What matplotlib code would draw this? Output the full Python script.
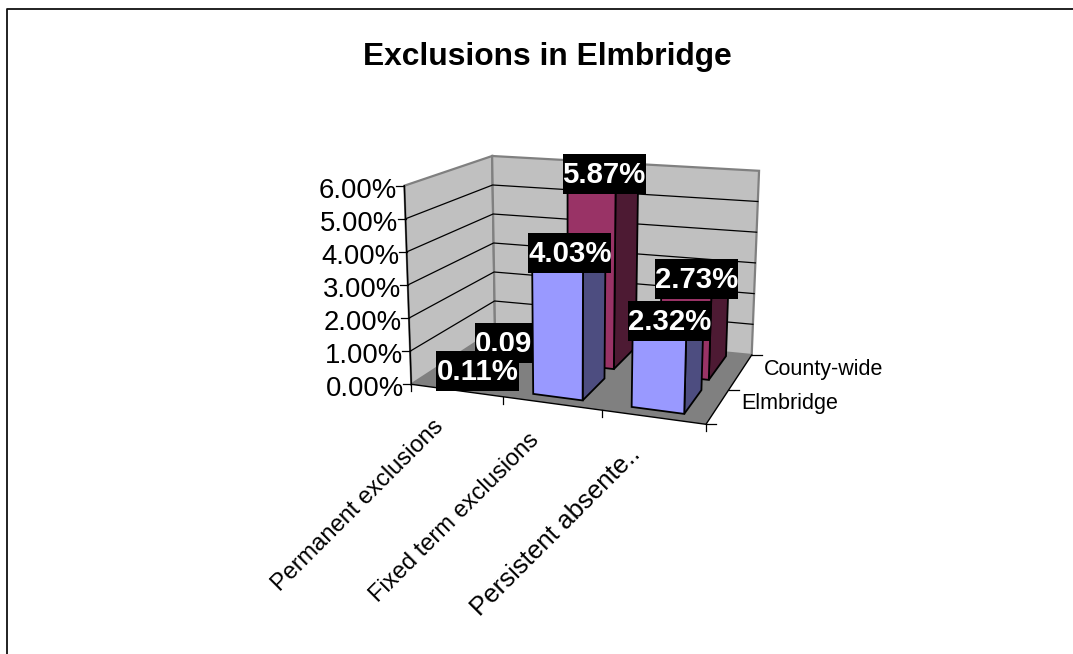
import numpy as np
import matplotlib
matplotlib.use('Agg')
import matplotlib.pyplot as plt
from matplotlib.patches import Rectangle

plt.rcParams['font.family'] = ['Liberation Sans', 'DejaVu Sans']

categories = ['Permanent exclusions', 'Fixed term exclusions', 'Persistent absente..']
series_names = ['Elmbridge', 'County-wide']
elmbridge = [0.11, 4.03, 2.32]
county = [0.09, 5.87, 2.73]
y_ticks = [0, 1, 2, 3, 4, 5, 6]

# floor corners on screen and pixels per 1% at each corner
FL, BL, BR, FR = map(np.array, [(411.3, 384.3), (495.0, 330.0), (751.7, 355.0), (706.0, 424.3)])
SCALE = [33.1, 29.0, 30.7, 35.0]
VANISH_X = 570.0
LEAN = 0.00022


def project(u, v, z):
    s = u / 3.0
    s = s - 0.095 * s * (1 - s)   # a bit of perspective along the x axis
    t = v / 2.0
    floor = (1 - t) * ((1 - s) * FL + s * FR) + t * ((1 - s) * BL + s * BR)
    per_unit = (1 - t) * ((1 - s) * SCALE[0] + s * SCALE[3]) + t * ((1 - s) * SCALE[1] + s * SCALE[2])
    h = per_unit * z
    return floor[0] + (floor[0] - VANISH_X) * LEAN * h, floor[1] - h


def face(ax, pts, color, edge='black', lw=1.3, zorder=3):
    xs = [p[0] for p in pts]
    ys = [p[1] for p in pts]
    ax.fill(xs, ys, facecolor=color, edgecolor=edge, linewidth=lw, zorder=zorder)


def bar3d(ax, i, j, val, front, side, top, zorder):
    u0, u1 = i + 0.24, i + 0.75
    v0, v1 = j + 0.20, j + 0.90
    face(ax, [project(u1, v0, 0), project(u1, v1, 0), project(u1, v1, val), project(u1, v0, val)], side, zorder=zorder)
    face(ax, [project(u0, v0, val), project(u1, v0, val), project(u1, v1, val), project(u0, v1, val)], top, zorder=zorder)
    face(ax, [project(u0, v0, 0), project(u1, v0, 0), project(u1, v0, val), project(u0, v0, val)], front, zorder=zorder)


def value_label(ax, i, j, val, zorder):
    x, y = project(i + 0.5, j + 0.5, val)
    x += 2
    y -= 2
    ax.add_patch(Rectangle((x - 41.5, y - 20), 83, 40, facecolor='black', edgecolor='none', zorder=zorder))
    ax.text(x, y + 1, '%.2f%%' % val, color='white', fontsize=21.2, fontweight='bold', ha='center', va='center', zorder=zorder + 0.01)


fig = plt.figure(figsize=(10.73, 6.54), dpi=100)
ax = fig.add_axes([0, 0, 1, 1])
ax.set_xlim(0, 1073)
ax.set_ylim(654, 0)
ax.axis('off')

# chart area border, right and bottom fall outside the crop
ax.plot([7, 7, 1073], [654, 9, 9], color='#101010', lw=1.3, zorder=1)

ax.text(547, 57, 'Exclusions in Elmbridge', fontsize=22.9, fontweight='bold', ha='center', va='center')

# walls and floor
face(ax, [project(0, 0, 0), project(0, 0, 6), project(0, 2, 6), project(0, 2, 0)], '#C0C0C0', edge='#808080', lw=1.6, zorder=1.5)
face(ax, [project(0, 2, 0), project(0, 2, 6), project(3, 2, 6), project(3, 2, 0)], '#C0C0C0', edge='#808080', lw=1.6, zorder=1.5)
face(ax, [project(0, 0, 0), project(0, 2, 0), project(3, 2, 0), project(3, 0, 0)], '#808080', edge='none', lw=0, zorder=1.6)

for t in y_ticks:
    a, b, c = project(0, 0, t), project(0, 2, t), project(3, 2, t)
    if 0 < t < 6:
        ax.plot([a[0], b[0], c[0]], [a[1], b[1], c[1]], color='black', lw=0.9, zorder=1.7)
    ax.plot([a[0] - 8, a[0]], [a[1], a[1]], color='black', lw=0.9, zorder=1.7)
    ax.text(a[0] - 7, a[1] + 5, '%.2f%%' % t, fontsize=19.8, ha='right', va='center', zorder=2)

# axes lines and ticks
p, q, r, s = project(0, 0, 0), project(0, 0, 6), project(3, 0, 0), project(3, 2, 0)
ax.plot([q[0], p[0], r[0], s[0]], [q[1], p[1], r[1], s[1]], color='black', lw=1.0, zorder=1.8)
for i in range(4):
    x, y = project(i, 0, 0)
    ax.plot([x, x], [y, y + 7], color='black', lw=0.9, zorder=1.8)
for j in range(3):
    x, y = project(3, j, 0)
    ax.plot([x, x + 10], [y, y], color='black', lw=0.9, zorder=1.8)

# category and series labels, the last one renders wider in the original
for i, name in enumerate(categories):
    x, y = project(i + 0.5, 0, 0)
    size = 18.6 if i == 2 else 17
    ax.text(x - 16, y + 33, name, fontsize=size, rotation=45, rotation_mode='anchor', ha='right', va='center')
for j, name in enumerate(series_names):
    x, y = project(3, j + 0.5, 0)
    ax.text(x + 24, y - 3, name, fontsize=15.5, ha='left', va='center')

# back series first, each with its labels, so the front bars cover them
for i, val in enumerate(county):
    bar3d(ax, i, 1, val, '#993366', '#4D1A33', '#993366', 3 + i * 0.1)
for i, val in enumerate(county):
    value_label(ax, i, 1, val, 3.5 + i * 0.1)
for i, val in enumerate(elmbridge):
    bar3d(ax, i, 0, val, '#9999FF', '#4D4D80', '#9999FF', 4 + i * 0.1)
for i, val in enumerate(elmbridge):
    value_label(ax, i, 0, val, 4.5 + i * 0.1)

fig.savefig('out.png', dpi=100, facecolor='white')
